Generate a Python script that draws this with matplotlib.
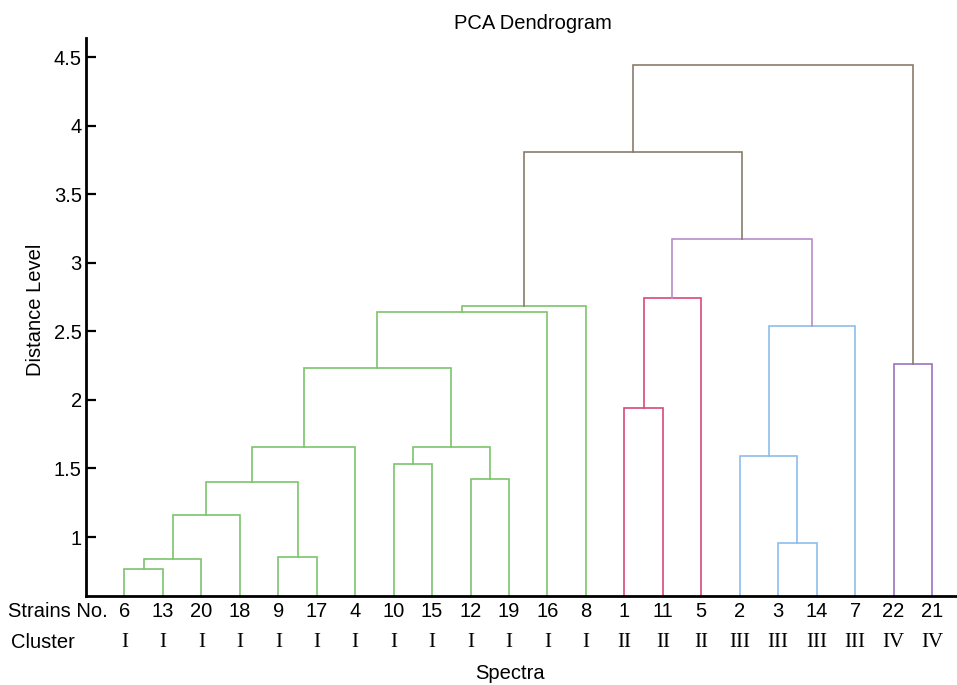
import matplotlib
matplotlib.use('Agg')
import matplotlib.pyplot as plt

# leaf order as drawn, left to right
strains = ['6', '13', '20', '18', '9', '17', '4', '10', '15', '12', '19', '16', '8',
           '1', '11', '5', '2', '3', '14', '7', '22', '21']
clusters = ['I'] * 13 + ['II'] * 3 + ['III'] * 4 + ['IV'] * 2

# merges: (left child, right child, distance); children are strain labels or 'm<index>'
merges = [
    ('6', '13', 0.764),
    ('m0', '20', 0.837),
    ('m1', '18', 1.160),
    ('9', '17', 0.856),
    ('m2', 'm3', 1.399),
    ('m4', '4', 1.655),
    ('10', '15', 1.533),
    ('12', '19', 1.421),
    ('m6', 'm7', 1.659),
    ('m5', 'm8', 2.231),
    ('m9', '16', 2.640),
    ('m10', '8', 2.686),
    ('1', '11', 1.942),
    ('m12', '5', 2.742),
    ('3', '14', 0.954),
    ('2', 'm14', 1.589),
    ('m15', '7', 2.538),
    ('m13', 'm16', 3.177),
    ('m11', 'm17', 3.810),
    ('22', '21', 2.263),
    ('m18', 'm19', 4.440),
]
merge_groups = ['I'] * 12 + ['II'] * 2 + ['III'] * 3 + ['II-III', 'top', 'IV', 'top']

group_colors = {
    'I': '#7dc46c',
    'II': '#d9487c',
    'III': '#8dbcee',
    'II-III': '#bb8cc9',
    'IV': '#9b72c0',
    'top': '#8a7b6c',
}

y_bottom, y_top = 0.57, 4.64

fig = plt.figure(figsize=(9.57, 6.85), dpi=100)
ax = fig.add_axes([0.0899, 0.130, 0.9101, 0.8145])

pos = {s: i + 1 for i, s in enumerate(strains)}
height = {s: y_bottom for s in strains}
for i, (a, b, h) in enumerate(merges):
    xa, xb = pos[a], pos[b]
    ax.plot([xa, xa, xb, xb], [height[a], h, h, height[b]],
            color=group_colors[merge_groups[i]], lw=1.2, solid_joinstyle='miter')
    pos['m%d' % i] = (xa + xb) / 2
    height['m%d' % i] = h

ax.set_xlim(0.0, 22.65)
ax.set_ylim(y_bottom, y_top)
ax.set_yticks([1, 1.5, 2, 2.5, 3, 3.5, 4, 4.5])
ax.set_yticklabels(['1', '1.5', '2', '2.5', '3', '3.5', '4', '4.5'])
ax.set_xticks([])

for sp in ['top', 'right']:
    ax.spines[sp].set_visible(False)
for sp in ['left', 'bottom']:
    ax.spines[sp].set_linewidth(2.0)
ax.tick_params(axis='y', direction='in', length=7, width=1.6, pad=3,
               labelsize=14.5)
for lbl in ax.get_yticklabels():
    lbl.set_fontfamily('Liberation Sans')

tr = ax.get_xaxis_transform()
for i, s in enumerate(strains):
    ax.text(i + 1, -0.027, s, transform=tr, ha='center', va='center',
            fontsize=14.5, family='Liberation Sans')
    ax.text(i + 1, -0.083, clusters[i], transform=tr, ha='center', va='center',
            fontsize=15, family='Liberation Serif')

fig.text(0.0084, 0.108, 'Strains No.', ha='left', va='center', fontsize=14.5,
         family='Liberation Sans')
fig.text(0.0115, 0.062, 'Cluster', ha='left', va='center', fontsize=14.5,
         family='Liberation Sans')
fig.text(0.533, 0.003, 'Spectra', ha='center', va='bottom', fontsize=14.5,
         family='Liberation Sans')
fig.text(0.557, 0.966, 'PCA Dendrogram', ha='center', va='center', fontsize=14.5,
         family='Liberation Sans')
fig.text(0.0366, 0.547, 'Distance Level', ha='center', va='center', fontsize=14.5,
         rotation=90, family='Liberation Sans')

fig.savefig('out.png', dpi=100)
